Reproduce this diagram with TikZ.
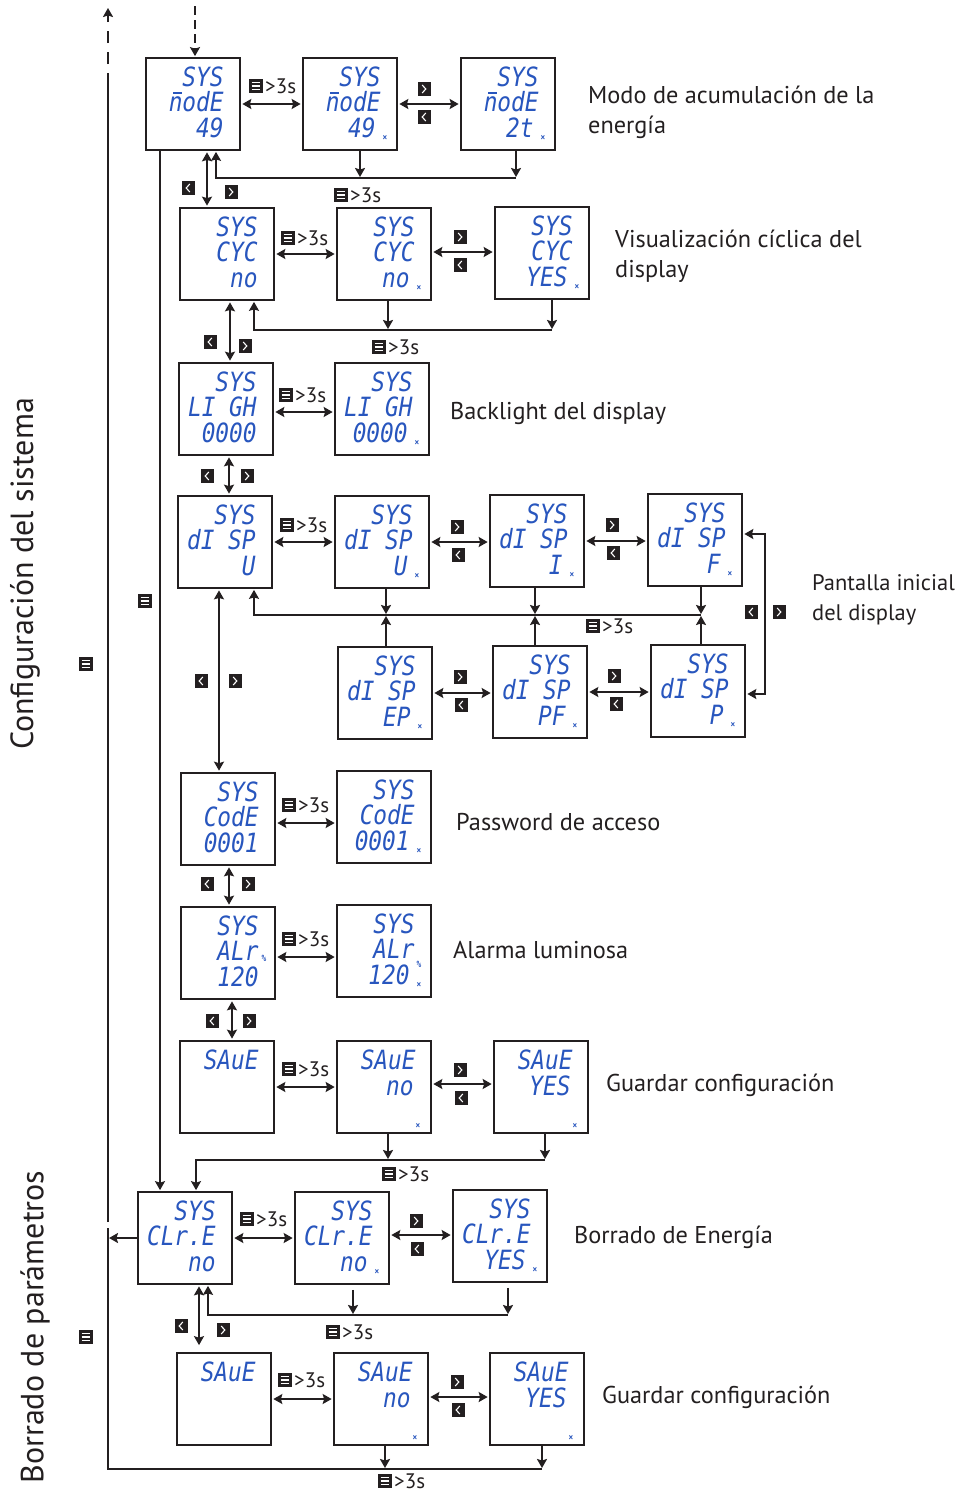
\documentclass[tikz,border=0pt]{standalone}
\usepackage{fontspec}
\setmainfont{PT Sans}
\newfontfamily\lcdf[FakeStretch=0.86]{DejaVu Sans Mono}
\usetikzlibrary{arrows.meta}
\definecolor{lcdblue}{RGB}{40,86,190}
\definecolor{ink}{RGB}{35,31,32}
\newcommand\mn{\rlap{\kern4.3pt\rule[17.4pt]{8.8pt}{1.5pt}}n}
\tikzset{
  dispbox/.style={draw=ink, line width=1.7pt, minimum width=94pt, minimum height=92pt, inner sep=0pt, fill=white},
  lcdtext/.style={font=\lcdf\itshape\fontsize{26.5}{26.5}\selectfont, text=lcdblue, inner sep=0pt, anchor=base east},
  marker/.style={font=\lcdf\bfseries\fontsize{9}{9}\selectfont, text=lcdblue, inner sep=0pt},
  tip/.tip={Stealth[length=9pt,width=10pt,inset=1.5pt]},
  ln/.style={draw=ink, line width=2.3pt},
  con/.style={ln, -tip, shorten >=1pt},
  dbl/.style={ln, tip-tip, shorten >=1.5pt, shorten <=1.5pt},
  tl/.style={font=\fontsize{21}{21}\selectfont, text=ink, inner sep=0pt, anchor=west},
  lbl/.style={font=\fontsize{24.3}{30}\selectfont, text=ink, inner sep=0pt, anchor=west, align=left},
  vlbl/.style={font=\fontsize{32}{32}\selectfont, text=ink, inner sep=0pt, rotate=90},
  menuic/.pic={\fill[ink] (-7,-7) rectangle (7,7);
    \foreach \q in {-3.3,0,3.3} \draw[white,line width=1.2pt] (-4.3,\q) -- (4.3,\q);},
  ric/.pic={\fill[ink] (-6.5,-7) rectangle (6.5,7);
    \draw[white,line width=1.1pt] (-1.8,-4) -- (1.8,0) -- (-1.8,4);},
  lic/.pic={\fill[ink] (-6.5,-7) rectangle (6.5,7);
    \draw[white,line width=1.1pt] (1.8,-4) -- (-1.8,0) -- (1.8,4);},
}
\newcommand\lcdline[4]{\node[lcdtext] at ([shift={(#2,#3)}]#1.north east) {#4};}
\newcommand\lcdmark[3]{\node[marker] at ([shift={(#2,#3)}]#1.north east) {×};}
\newcommand\disp[6]{%
  \node[dispbox] (#1) at ({#2+47},{#3+46}) {};
  \lcdline{#1}{-17}{29}{#4}%
  \lcdline{#1}{-17}{54}{#5}%
  \lcdline{#1}{-17}{80}{#6}}
\newcommand\dispx[6]{%
  \node[dispbox] (#1) at ({#2+47},{#3+46}) {};
  \lcdline{#1}{-17}{29}{#4}%
  \lcdline{#1}{-17}{54}{#5}%
  \lcdline{#1}{-22}{80}{#6}%
  \lcdmark{#1}{-13}{81}}
\newcommand\dispsave[4]{%
  \node[dispbox] (#1) at ({#2+47},{#3+46}) {};
  \lcdline{#1}{-16}{29}{SAuE}%
  \lcdline{#1}{-18}{55}{#4}}
\newcommand\mlabel[2]{\pic at (#1,#2) {menuic}; \node[tl] at ({#1+9},#2) {>3s};}
\begin{document}
\begin{tikzpicture}[x=1pt,y=-1pt]
\useasboundingbox (0,0) rectangle (963,1494);
% ---- displays
\disp{A1}{146}{58}{SYS}{\mn odE}{49}
\dispx{A2}{303}{58}{SYS}{\mn odE}{49}
\dispx{A3}{461}{58}{SYS}{\mn odE}{2t}
\disp{B1}{180}{208}{SYS}{CYC}{no}
\dispx{B2}{337}{208}{SYS}{CYC}{no}
\dispx{B3}{495}{207}{SYS}{CYC}{YES}
\disp{C1}{179}{363}{SYS}{LI GH}{0000}
\dispx{C2}{335}{363}{SYS}{LI GH}{0000}
\disp{D1}{178}{496}{SYS}{dI SP}{U}
\dispx{D2}{335}{496}{SYS}{dI SP}{U}
\dispx{D3}{490}{495}{SYS}{dI SP}{I}
\dispx{D4}{648}{494}{SYS}{dI SP}{F}
\dispx{E1}{338}{647}{SYS}{dI SP}{EP}
\dispx{E2}{493}{646}{SYS}{dI SP}{PF}
\dispx{E3}{651}{645}{SYS}{dI SP}{P}
\disp{F1}{181}{773}{SYS}{CodE}{0001}
\dispx{F2}{337}{771}{SYS}{CodE}{0001}
\disp{G1}{181}{907}{SYS}{ALr}{120}
\node[marker] at ([shift={(-12,52)}]G1.north east) {\%};
\dispx{G2}{337}{905}{SYS}{ALr}{120}
\node[marker] at ([shift={(-13,60)}]G2.north east) {\%};
\dispsave{H1}{180}{1041}{}
\dispsave{H2}{337}{1041}{no}\lcdmark{H2}{-14}{86}
\dispsave{H3}{494}{1041}{YES}\lcdmark{H3}{-14}{86}
\disp{I1}{138}{1192}{SYS}{CLr.E}{no}
\dispx{I2}{295}{1192}{SYS}{CLr.E}{no}
\dispx{I3}{453}{1190}{SYS}{CLr.E}{YES}
\dispsave{J1}{177}{1353}{}
\dispsave{J2}{334}{1353}{no}\lcdmark{J2}{-14}{86}
\dispsave{J3}{490}{1353}{YES}\lcdmark{J3}{-14}{86}
% ---- text labels
\node[lbl] (tA) at (588,112) {Modo de acumulación de la\\energía};
\node[lbl] (tB) at (615,256) {Visualización cíclica del\\display};
\node[lbl] (tC) at (450,413) {Backlight del display};
\node[lbl, font=\fontsize{22.5}{30}\selectfont] (tD) at (812,600) {Pantalla inicial\\del display};
\node[lbl] (tF) at (456,822) {Password de acceso};
\node[lbl] (tG) at (453,950) {Alarma luminosa};
\node[lbl] (tH) at (606,1085) {Guardar configuración};
\node[lbl] (tI) at (574,1237) {Borrado de Energía};
\node[lbl] (tJ) at (602,1397) {Guardar configuración};
\node[vlbl] (vC) at (25,574) {Configuración del sistema};
\node[vlbl] (vB) at (35,1327) {Borrado de parámetros};
% ---- coordinates
\coordinate (topL) at (108,85);
\coordinate (gapT) at (108,1222);
\coordinate (gapB) at (108,1228);
\coordinate (botL) at (108,1469);
\coordinate (exitT) at (108,8);
\coordinate (inTop) at (195,6);
\coordinate (aR) at (516,178); \coordinate (aM) at (360,178);
\coordinate (bR) at (552,330); \coordinate (bM) at (388,330);
\coordinate (dR) at (701,615); \coordinate (dM2) at (535,615); \coordinate (dM1) at (386,615);
\coordinate (lpT) at (765,534); \coordinate (lpB) at (765,694);
\coordinate (hR) at (545,1160); \coordinate (hM) at (388,1160);
\coordinate (iR) at (508,1315); \coordinate (iM) at (353,1315);
\coordinate (jR) at (542,1469); \coordinate (jM) at (385,1469);
% ---- outer lines
\draw[ln] (gapT) -- (topL);
\draw[ln, -tip, dash pattern=on 12pt off 9pt] (topL) -- (exitT);
\draw[ln] (jR) -- (botL) -- (gapB);
\draw[con, dash pattern=on 9pt off 5pt] (inTop) -- (inTop |- A1.north);
\draw[con] ([xshift=-33]A1.south) -- ([xshift=-33]A1.south |- I1.north);
% ---- row A
\draw[dbl] (A1.east) -- (A1.east -| A2.west);
\draw[dbl] (A2.east) -- (A2.east -| A3.west);
\draw[con] (A2.south -| aM) -- (aM);
\draw[con] (A3.south -| aR) -- (aR);
\draw[con] (aR) -| ([xshift=23]A1.south);
\draw[dbl] ([xshift=14]A1.south) -- ([xshift=14]A1.south |- B1.north);
% ---- row B
\draw[dbl] (B1.east) -- (B1.east -| B2.west);
\draw[dbl] ([yshift=2]B2.east) -- ([yshift=2]B2.east -| B3.west);
\draw[con] (B2.south -| bM) -- (bM);
\draw[con] (B3.south -| bR) -- (bR);
\draw[con] (bR) -| ([xshift=27]B1.south);
\draw[dbl] ([xshift=3]B1.south) -- ([xshift=3]B1.south |- C1.north);
% ---- row C
\draw[dbl] ([yshift=-3]C1.east) -- ([yshift=-3]C1.east -| C2.west);
\draw[dbl] ([xshift=3]C1.south) -- ([xshift=3]C1.south |- D1.north);
% ---- row D / E
\draw[dbl] (D1.east) -- (D1.east -| D2.west);
\draw[dbl] (D2.east) -- (D2.east -| D3.west);
\draw[dbl] (D3.east) -- (D3.east -| D4.west);
\draw[con] (D2.south -| dM1) -- (dM1);
\draw[con] (D3.south -| dM2) -- (dM2);
\draw[con] (D4.south -| dR) -- (dR);
\draw[con] (E1.north -| dM1) -- (dM1);
\draw[con] (E2.north -| dM2) -- (dM2);
\draw[con] (E3.north -| dR) -- (dR);
\draw[con] (dR) -| ([xshift=29]D1.south);
\draw[dbl] (E1.east) -- (E1.east -| E2.west);
\draw[dbl] (E2.east) -- (E2.east -| E3.west);
\draw[dbl] (D4.east |- lpT) -- (lpT) -- (lpB) -- (E3.east |- lpB);
\draw[dbl] ([xshift=-6]D1.south) -- ([xshift=-6]D1.south |- F1.north);
% ---- rows F, G
\draw[dbl] ([yshift=-4]F1.east) -- ([yshift=-4]F1.east -| F2.west);
\draw[dbl] ([xshift=1]F1.south) -- ([xshift=1]F1.south |- G1.north);
\draw[dbl] ([yshift=-4]G1.east) -- ([yshift=-4]G1.east -| G2.west);
\draw[dbl] ([xshift=4]G1.south) -- ([xshift=4]G1.south |- H1.north);
% ---- row H
\draw[dbl] (H1.east) -- (H1.east -| H2.west);
\draw[dbl] ([yshift=3]H2.east) -- ([yshift=3]H2.east -| H3.west);
\draw[con] (H2.south -| hM) -- (hM);
\draw[con] (H3.south -| hR) -- (hR);
\draw[con] (hR) -| ([xshift=11]I1.north);
% ---- row I
\draw[dbl] (I1.east) -- (I1.east -| I2.west);
\draw[dbl] ([yshift=3]I2.east) -- ([yshift=3]I2.east -| I3.west);
\draw[con, shorten <=5pt] (I2.south -| iM) -- (iM);
\draw[con, shorten <=5pt] (I3.south -| iR) -- (iR);
\draw[con] (iR) -| ([xshift=23]I1.south);
\draw[dbl, shorten >=7pt] ([xshift=14]I1.south) -- ([xshift=14]I1.south |- J1.north);
\draw[con] (I1.west) -- (I1.west -| gapB);
% ---- row J
\draw[dbl] (J1.east) -- (J1.east -| J2.west);
\draw[dbl] ([yshift=2]J2.east) -- ([yshift=2]J2.east -| J3.west);
\draw[con] (J2.south -| jM) -- (jM);
\draw[con] (J3.south -| jR) -- (jR);
% ---- key labels
\mlabel{256}{86}
\mlabel{341}{195}
\mlabel{288}{238}
\mlabel{379}{347}
\mlabel{286}{395}
\mlabel{287}{525}
\mlabel{593}{626}
\mlabel{289}{805}
\mlabel{289}{939}
\mlabel{289}{1069}
\mlabel{389}{1174}
\mlabel{247}{1219}
\mlabel{333}{1332}
\mlabel{285}{1380}
\mlabel{385}{1481}
\pic at (145,601) {menuic};
\pic at (86,664) {menuic};
\pic at (86,1337) {menuic};
% chevrons
\pic at (424,89) {ric};  \pic at (424,117) {lic};
\pic at (188,188) {lic}; \pic at (231,192) {ric};
\pic at (460,237) {ric}; \pic at (460,265) {lic};
\pic at (210,342) {lic}; \pic at (245,346) {ric};
\pic at (207,476) {lic}; \pic at (247,476) {ric};
\pic at (457,527) {ric}; \pic at (458,555) {lic};
\pic at (612,525) {ric}; \pic at (613,553) {lic};
\pic at (460,677) {ric}; \pic at (461,705) {lic};
\pic at (614,676) {ric}; \pic at (616,704) {lic};
\pic at (751,612) {lic}; \pic at (779,612) {ric};
\pic at (201,681) {lic}; \pic at (235,681) {ric};
\pic at (207,884) {lic}; \pic at (248,884) {ric};
\pic at (212,1021) {lic}; \pic at (249,1021) {ric};
\pic at (460,1070) {ric}; \pic at (461,1098) {lic};
\pic at (416,1221) {ric}; \pic at (417,1249) {lic};
\pic at (181,1326) {lic}; \pic at (223,1330) {ric};
\pic at (457,1382) {ric}; \pic at (458,1410) {lic};
\end{tikzpicture}
\end{document}
